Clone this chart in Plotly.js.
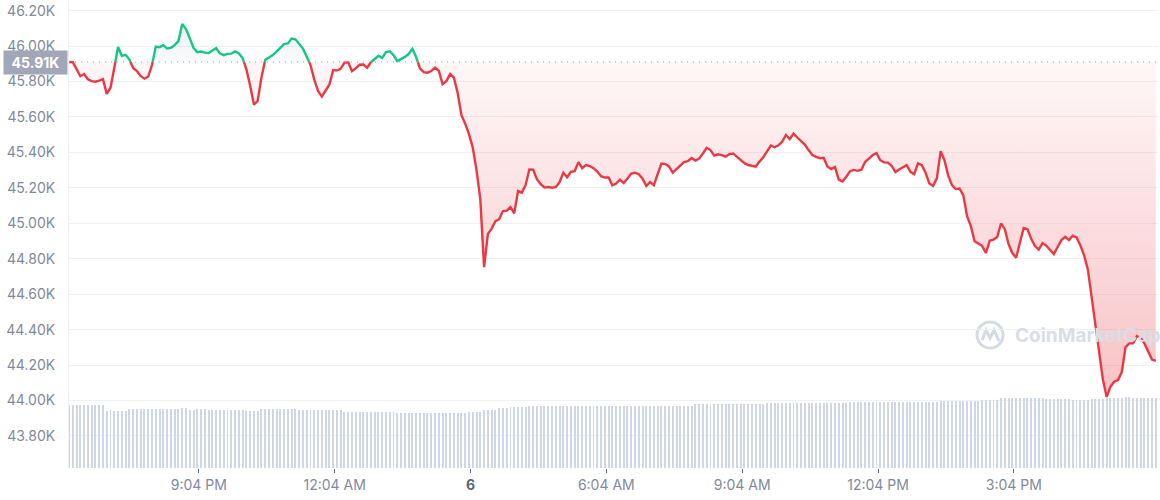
<!DOCTYPE html>
<html>
<head>
<meta charset="utf-8">
<script src="https://cdn.plot.ly/plotly-3.0.1.min.js"></script>
<style>
  html, body { margin: 0; padding: 0; background: #ffffff; }
  #chart { width: 1160px; height: 500px; }
</style>
</head>
<body>
<div id="chart"></div>
<script>
// ---- data (5-minute points over 24h) ----
const openPrice = 45910;
const openLabel = "45.91K";

const price = [
  45910, 45909, 45870, 45830, 45842, 45813, 45802, 45799, 45805, 45813,
  45730, 45765, 45876, 45995, 45945, 45951, 45924, 45876, 45859, 45830,
  45816, 45828, 45893, 45997, 45994, 46005, 45986, 45990, 46005, 46028,
  46125, 46096, 46045, 45990, 45966, 45969, 45963, 45961, 45975, 45988,
  45959, 45949, 45956, 45957, 45970, 45960, 45932, 45870, 45777, 45670,
  45690, 45822, 45921, 45936, 45949, 45969, 45992, 46011, 46015, 46042,
  46038, 46014, 45986, 45940, 45893, 45811, 45747, 45715, 45746, 45782,
  45864, 45863, 45872, 45907, 45908, 45859, 45874, 45895, 45896, 45878,
  45908, 45929, 45945, 45933, 45966, 45971, 45949, 45915, 45926, 45939,
  45955, 45984, 45938, 45874, 45853, 45850, 45859, 45878, 45861, 45785,
  45802, 45842, 45822, 45735, 45610, 45562, 45503, 45427, 45300, 45136,
  44752, 44939, 44970, 45012, 45023, 45069, 45071, 45091, 45056, 45182,
  45173, 45215, 45304, 45303, 45249, 45221, 45202, 45205, 45201, 45204,
  45232, 45285, 45260, 45290, 45294, 45345, 45311, 45328, 45323, 45311,
  45292, 45266, 45258, 45259, 45214, 45224, 45246, 45227, 45253, 45281,
  45285, 45277, 45252, 45210, 45232, 45215, 45277, 45337, 45334, 45321,
  45286, 45306, 45328, 45345, 45351, 45368, 45354, 45365, 45394, 45426,
  45413, 45382, 45389, 45385, 45376, 45390, 45394, 45376, 45356, 45339,
  45329, 45323, 45320, 45348, 45373, 45406, 45439, 45429, 45440, 45460,
  45498, 45475, 45506, 45484, 45462, 45444, 45413, 45385, 45375, 45367,
  45369, 45321, 45306, 45317, 45246, 45236, 45263, 45294, 45301, 45296,
  45302, 45347, 45365, 45385, 45396, 45356, 45344, 45342, 45325, 45289,
  45304, 45314, 45328, 45290, 45277, 45338, 45328, 45286, 45224, 45210,
  45255, 45407, 45356, 45269, 45215, 45193, 45196, 45159, 45040, 44984,
  44899, 44886, 44871, 44832, 44902, 44908, 44922, 45000, 44967, 44882,
  44832, 44806, 44882, 44973, 44967, 44913, 44871, 44851, 44888, 44874,
  44849, 44826, 44866, 44905, 44923, 44905, 44930, 44920, 44877, 44820,
  44741, 44583, 44408, 44267, 44118, 44020, 44078, 44106, 44115, 44160,
  44301, 44322, 44322, 44363, 44352, 44322, 44279, 44231, 44224
];

// rolling 24h volume, billions USD
const volume = [
  31.5, 31.5, 31.5, 31.5, 31.5, 31.5, 31.5, 31.5, 31.5, 31.5,
  28.3, 28.9, 28.5, 28.7, 28.4, 28.6, 29.5, 29.5, 29.5, 29.5,
  29.5, 29.5, 29.5, 29.5, 29.5, 29.5, 29.5, 29.5, 29.5, 29.5,
  30.0, 30.0, 29.0, 29.0, 29.5, 29.5, 29.5, 29.0, 29.0, 29.0,
  29.0, 29.0, 29.0, 29.0, 29.0, 29.0, 29.0, 28.5, 28.5, 28.5,
  28.5, 29.5, 29.5, 29.5, 29.5, 29.5, 29.5, 29.5, 29.5, 29.5,
  29.5, 29.0, 29.0, 29.0, 29.0, 29.0, 29.0, 29.0, 29.0, 29.0,
  29.0, 29.0, 29.0, 27.9, 27.9, 27.9, 27.9, 27.9, 27.9, 27.9,
  27.9, 27.9, 27.9, 27.9, 27.9, 27.9, 27.9, 27.5, 27.5, 27.5,
  27.5, 27.4, 27.4, 27.4, 27.4, 27.4, 27.4, 27.4, 27.4, 27.4,
  27.4, 27.4, 27.4, 27.7, 27.7, 27.7, 28.0, 28.0, 28.0, 28.0,
  29.0, 29.0, 29.0, 29.0, 29.9, 29.9, 29.9, 30.4, 30.4, 30.4,
  30.4, 30.4, 30.9, 30.9, 30.9, 30.9, 30.9, 30.9, 30.9, 30.9,
  30.9, 30.9, 31.2, 31.2, 31.2, 31.2, 31.2, 31.2, 31.2, 31.2,
  31.2, 31.2, 31.2, 31.2, 31.2, 31.2, 31.2, 31.2, 31.2, 31.2,
  31.2, 31.2, 31.2, 31.2, 31.2, 31.2, 31.2, 31.2, 31.2, 31.2,
  31.2, 31.2, 31.2, 31.2, 31.2, 31.2, 31.9, 31.9, 31.9, 31.9,
  31.9, 31.9, 31.9, 31.9, 31.9, 31.9, 31.9, 31.9, 31.9, 31.9,
  31.9, 31.9, 31.9, 31.9, 31.9, 32.4, 32.4, 32.4, 32.4, 32.4,
  32.4, 32.4, 32.4, 32.4, 32.4, 32.4, 32.4, 32.4, 32.4, 32.4,
  32.4, 32.4, 32.4, 32.4, 32.4, 32.4, 32.4, 32.9, 32.9, 32.9,
  32.9, 32.9, 32.9, 32.9, 32.9, 32.9, 32.9, 32.9, 32.9, 32.9,
  32.9, 32.9, 32.9, 32.9, 32.9, 32.9, 32.9, 32.9, 32.9, 32.9,
  32.9, 33.4, 33.4, 33.4, 33.4, 33.4, 33.4, 33.4, 33.4, 33.4,
  33.4, 33.4, 34.2, 34.2, 34.2, 34.2, 34.2, 34.9, 34.9, 34.9,
  34.9, 34.9, 34.9, 34.9, 34.9, 34.9, 34.9, 34.9, 34.9, 34.4,
  34.4, 34.4, 34.4, 34.4, 34.4, 34.4, 34.0, 34.0, 34.0, 34.0,
  34.0, 34.5, 34.5, 34.5, 34.5, 35.2, 35.2, 35.2, 35.2, 35.2,
  35.5, 35.5, 35.0, 35.0, 35.0, 35.0, 35.0, 35.0, 35.0
];

const stepMinutes = 5;
const tickMinutes = [172, 352, 532, 712, 892, 1072, 1252];
const tickLabels = ["9:04 PM", "12:04 AM", "6", "6:04 AM", "9:04 AM", "12:04 PM", "3:04 PM"];
const priceTicks = [43800, 44000, 44200, 44400, 44600, 44800, 45000, 45200, 45400, 45600, 45800, 46000, 46200];

// ---- build ----
const minutes = price.map((_, i) => i * stepMinutes);

// split the line into above / below open segments
const up = { x: [], y: [] }, dn = { x: [], y: [] };
for (let i = 0; i < price.length; i++) {
  const isUp = price[i] >= openPrice;
  if (i > 0) {
    const prevUp = price[i - 1] >= openPrice;
    if (prevUp !== isUp) {
      const t = (openPrice - price[i - 1]) / (price[i] - price[i - 1]);
      const xc = minutes[i - 1] + t * (minutes[i] - minutes[i - 1]);
      const from = prevUp ? up : dn, to = isUp ? up : dn;
      from.x.push(xc); from.y.push(openPrice);
      from.x.push(null); from.y.push(null);
      to.x.push(xc); to.y.push(openPrice);
    }
  }
  const s = isUp ? up : dn;
  s.x.push(minutes[i]); s.y.push(price[i]);
}

const font = "Inter, 'Noto Sans', 'DejaVu Sans', sans-serif";
const grey = "#808a9d";

const traces = [
  {
    type: "bar", x: minutes, y: volume, yaxis: "y", xaxis: "x",
    width: 2.6, marker: { color: "#cfd6e4", line: { width: 0 } },
    hoverinfo: "skip"
  },
  {
    type: "scatter", mode: "lines", x: minutes, y: minutes.map(() => openPrice),
    yaxis: "y2", line: { width: 0 }, hoverinfo: "skip", showlegend: false
  },
  {
    type: "scatter", mode: "lines", x: minutes, y: price, yaxis: "y2",
    line: { width: 0 }, fill: "tonexty",
    fillcolor: "rgba(234,57,67,0.12)",
    fillgradient: {
      type: "vertical", start: 43800, stop: 46200,
      colorscale: [
        [0, "rgba(234,57,67,0.34)"],
        [0.878, "rgba(234,57,67,0.04)"],
        [0.880, "rgba(160,172,192,0.05)"],
        [1, "rgba(160,172,192,0.25)"]
      ]
    },
    hoverinfo: "skip"
  },
  {
    type: "scatter", mode: "lines", x: up.x, y: up.y, yaxis: "y2",
    line: { color: "#16c784", width: 2.4 }, connectgaps: false, hoverinfo: "skip"
  },
  {
    type: "scatter", mode: "lines", x: dn.x, y: dn.y, yaxis: "y2",
    line: { color: "#ea3943", width: 2.4 }, connectgaps: false, hoverinfo: "skip"
  }
];

const layout = {
  width: 1160, height: 500,
  margin: { l: 69, r: 2, t: 0, b: 32 },
  paper_bgcolor: "#ffffff", plot_bgcolor: "#ffffff",
  showlegend: false,
  bargap: 0,
  font: { family: font, color: grey, size: 14 },
  xaxis: {
    range: [0, 1443], showgrid: false, zeroline: false, showline: false,
    tickvals: tickMinutes,
    ticktext: tickLabels.map(t => t === "6" ? "<b><span style='color:#58667e'>6</span></b>" : t),
    ticks: "outside", ticklen: 4, tickwidth: 1, tickcolor: "#58667e",
    tickfont: { family: font, size: 14, color: grey }
  },
  yaxis: {
    range: [0, 234], visible: false, fixedrange: true
  },
  yaxis2: {
    overlaying: "y", side: "left",
    range: [43619, 46260],
    tickvals: priceTicks,
    ticktext: priceTicks.map(v => (v / 1000).toFixed(2) + "K"),
    showgrid: true, gridcolor: "#eff2f5", gridwidth: 1,
    zeroline: false, showline: true, linecolor: "#eef1f5", linewidth: 1,
    ticks: "", ticklabelstandoff: 10,
    tickfont: { family: font, size: 14, color: grey }
  },
  shapes: [
    {
      type: "line", xref: "paper", x0: 0, x1: 1, yref: "y2", y0: openPrice, y1: openPrice,
      line: { color: "#9aa1b0", width: 1.2, dash: "1px,5px" }, layer: "above"
    },
    {
      type: "circle", xref: "paper", yref: "paper", xsizemode: "pixel", ysizemode: "pixel",
      xanchor: 0.8458, yanchor: 0.284, x0: -13, x1: 13, y0: -13, y1: 13,
      line: { color: "#d5dae3", width: 3 }, layer: "below"
    },
    {
      type: "path", xref: "paper", yref: "paper", xsizemode: "pixel", ysizemode: "pixel",
      xanchor: 0.8458, yanchor: 0.284,
      path: "M -8,-5 L -4,5 L 0,-3 L 4,5 L 9,-6",
      line: { color: "#d5dae3", width: 3 }, layer: "below"
    }
  ],
  annotations: [
    {
      xref: "paper", x: 0, xanchor: "right", xshift: -1,
      yref: "y2", y: openPrice, yanchor: "middle",
      text: "<b>" + openLabel + "</b>", showarrow: false,
      font: { family: font, size: 14, color: "#ffffff" },
      bgcolor: "#a1a7b7", borderpad: 4, width: 55, height: 15, align: "center"
    },
    {
      xref: "paper", x: 0.8669, xanchor: "left",
      yref: "paper", y: 0.284, yanchor: "middle",
      text: "<b>CoinMarketCap</b>", showarrow: false,
      font: { family: font, size: 19, color: "#d9dde5" }
    }
  ]
};

Plotly.newPlot("chart", traces, layout, { displayModeBar: false, staticPlot: true });
</script>
</body>
</html>
